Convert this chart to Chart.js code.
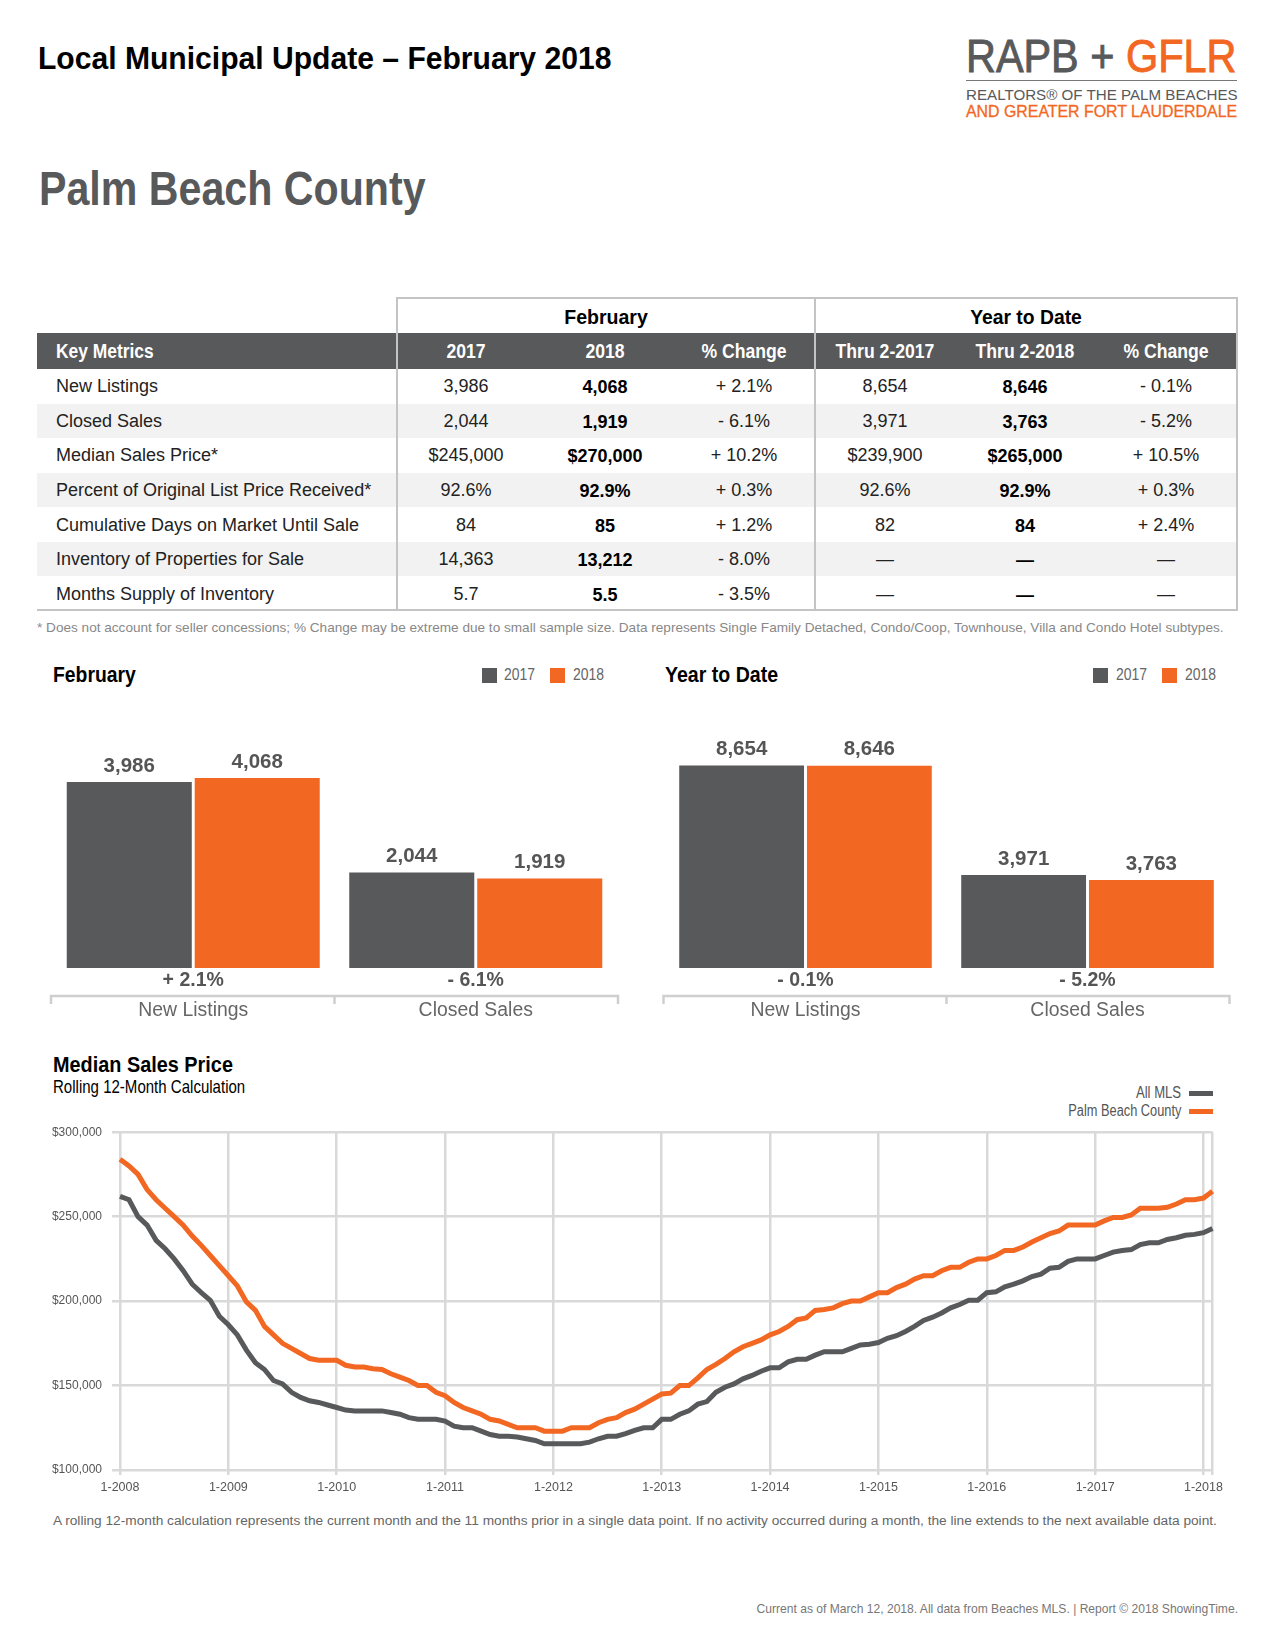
<!DOCTYPE html>
<html>
<head>
<meta charset="utf-8">
<script src="https://cdn.jsdelivr.net/npm/chart.js@4.4.1/dist/chart.umd.min.js"></script>
<style>
  body { margin: 0; background: #fff; }
  #page { position: relative; width: 1275px; height: 1650px; overflow: hidden; font-family: "Liberation Sans", Arial, sans-serif; color: #222; }
  .t { position: absolute; white-space: nowrap; transform-origin: left center; }
  .r { transform-origin: right center; }
  .b { font-weight: bold; }
  canvas { position: absolute; }
  .sw { position: absolute; }
</style>
</head>
<body>
<div id="page">
  <!-- header -->
  <div class="t b" style="left:38px;top:38px;line-height:40px;font-size:32px;color:#000;transform:scaleX(0.94);">Local Municipal Update – February 2018</div>
  <div class="t" style="left:966px;top:33px;line-height:46px;font-size:46px;transform:scaleX(0.9);-webkit-text-stroke:0.9px;"><span style="color:#58595b;-webkit-text-stroke-color:#58595b;">RAPB + </span><span style="color:#f26722;-webkit-text-stroke-color:#f26722;">GFLR</span></div>
  <div class="sw" style="left:966px;top:80px;width:271px;height:1px;background:#777;"></div>
  <div class="t" style="left:966px;top:86px;line-height:18px;font-size:15.15px;color:#58595b;">REALTORS® OF THE PALM BEACHES</div>
  <div class="t" style="left:966px;top:103px;line-height:18px;font-size:15.9px;color:#f26722;-webkit-text-stroke:0.3px #f26722;">AND GREATER FORT LAUDERDALE</div>

  <div class="t b" style="left:39px;top:160px;line-height:56px;font-size:49px;color:#58595b;transform:scaleX(0.84);">Palm Beach County</div>

  <div id="table"></div>

  <div class="t" style="left:37px;top:620px;line-height:16px;font-size:13.6px;color:#888;">* Does not account for seller concessions; % Change may be extreme due to small sample size. Data represents Single Family Detached, Condo/Coop, Townhouse, Villa and Condo Hotel subtypes.</div>

  <!-- bar chart headers -->
  <div class="t b" style="left:53px;top:661px;line-height:28px;font-size:21.5px;color:#000;transform:scaleX(0.9);">February</div>
  <div class="sw" style="left:482px;top:668px;width:15px;height:15px;background:#58595b;"></div>
  <div class="t" style="left:504px;top:665px;line-height:20px;font-size:17px;color:#666;transform:scaleX(0.82);">2017</div>
  <div class="sw" style="left:550px;top:668px;width:15px;height:15px;background:#f26722;"></div>
  <div class="t" style="left:573px;top:665px;line-height:20px;font-size:17px;color:#666;transform:scaleX(0.82);">2018</div>

  <div class="t b" style="left:665px;top:661px;line-height:28px;font-size:21.5px;color:#000;transform:scaleX(0.91);">Year to Date</div>
  <div class="sw" style="left:1093px;top:668px;width:15px;height:15px;background:#58595b;"></div>
  <div class="t" style="left:1116px;top:665px;line-height:20px;font-size:17px;color:#666;transform:scaleX(0.82);">2017</div>
  <div class="sw" style="left:1162px;top:668px;width:15px;height:15px;background:#f26722;"></div>
  <div class="t" style="left:1185px;top:665px;line-height:20px;font-size:17px;color:#666;transform:scaleX(0.82);">2018</div>

  <canvas id="febChart" width="590" height="340" style="left:40px;top:690px;width:590px;height:340px;"></canvas>
  <canvas id="ytdChart" width="590" height="340" style="left:652px;top:690px;width:590px;height:340px;"></canvas>

  <!-- line chart headers -->
  <div class="t b" style="left:53px;top:1051px;line-height:28px;font-size:22.4px;color:#000;transform:scaleX(0.887);">Median Sales Price</div>
  <div class="t" style="left:53px;top:1077px;line-height:20px;font-size:17.7px;color:#000;transform:scaleX(0.85);">Rolling 12-Month Calculation</div>
  <div class="t r" style="right:94px;top:1084px;line-height:18px;font-size:16px;color:#555;transform:scaleX(0.82);">All MLS</div>
  <div class="sw" style="left:1189px;top:1091px;width:24px;height:5px;background:#58595b;"></div>
  <div class="t r" style="right:94px;top:1102px;line-height:18px;font-size:16px;color:#555;transform:scaleX(0.8);">Palm Beach County</div>
  <div class="sw" style="left:1189px;top:1109px;width:24px;height:5px;background:#f26722;"></div>

  <canvas id="lineChart" width="1185" height="390" style="left:40px;top:1115px;width:1185px;height:390px;"></canvas>

  <div class="t" style="left:53px;top:1513px;line-height:16px;font-size:13.7px;color:#666;">A rolling 12-month calculation represents the current month and the 11 months prior in a single data point. If no activity occurred during a month, the line extends to the next available data point.</div>
  <div class="t" style="right:37px;top:1601px;line-height:16px;font-size:12.1px;color:#777;">Current as of March 12, 2018. All data from Beaches MLS. | Report © 2018 ShowingTime.</div>
</div>

<script>
const SANS = '"Liberation Sans", Arial, sans-serif';
const GRAY = "#58595b";
const ORANGE = "#f26722";
const GRID = "#d9d9d9";

// key metrics table
const metricNames = ["New Listings", "Closed Sales", "Median Sales Price*", "Percent of Original List Price Received*",
  "Cumulative Days on Market Until Sale", "Inventory of Properties for Sale", "Months Supply of Inventory"];
const feb2017Col = ["3,986", "2,044", "$245,000", "92.6%", "84", "14,363", "5.7"];
const feb2018Col = ["4,068", "1,919", "$270,000", "92.9%", "85", "13,212", "5.5"];
const febChangeCol = ["+ 2.1%", "- 6.1%", "+ 10.2%", "+ 0.3%", "+ 1.2%", "- 8.0%", "- 3.5%"];
const ytd2017Col = ["8,654", "3,971", "$239,900", "92.6%", "82", "—", "—"];
const ytd2018Col = ["8,646", "3,763", "$265,000", "92.9%", "84", "—", "—"];
const ytdChangeCol = ["- 0.1%", "- 5.2%", "+ 10.5%", "+ 0.3%", "+ 2.4%", "—", "—"];
const headCols = ["2017", "2018", "% Change", "Thru 2-2017", "Thru 2-2018", "% Change"];

// bar charts
const barCats = ["New Listings", "Closed Sales"];
const feb2017 = [3986, 2044];
const feb2018 = [4068, 1919];
const febChange = ["+ 2.1%", "- 6.1%"];
const ytd2017 = [8654, 3971];
const ytd2018 = [8646, 3763];
const ytdChange = ["- 0.1%", "- 5.2%"];

// median sales price, rolling 12 months, 1-2008 .. 2-2018
const palmBeach = [
  284000, 280000, 275000, 266000, 260000, 255000, 250000, 245000, 238500, 233000, 227000, 221000,
  215000, 209000, 199500, 194500, 185000, 180000, 175000, 172000, 169000, 166000, 165000, 165000,
  165000, 162000, 161000, 161000, 160000, 159500, 157000, 155000, 153000, 150000, 150000, 146000,
  144000, 140000, 137000, 135000, 133000, 130000, 129000, 127000, 125000, 125000, 125000, 123000,
  123000, 123000, 125000, 125000, 125000, 128000, 130000, 131000, 134000, 136000, 139000, 142000,
  145000, 145500, 150000, 150000, 154500, 159500, 162500, 166000, 170000, 173000, 175000, 177000,
  180000, 182000, 185000, 189000, 190000, 194500, 195000, 196000, 198500, 200000, 200000, 202500,
  205000, 205000, 208000, 210000, 213000, 215000, 215000, 218000, 220000, 220000, 223000, 225000,
  225000, 227000, 230000, 230000, 232000, 235000, 237500, 240000, 241500, 245000, 245000, 245000,
  245000, 247500, 249500, 249500, 251000, 255000, 255000, 255000, 255500, 257500, 260000, 260000,
  261000, 265000
];
const allMls = [
  262000, 260000, 250000, 245000, 236000, 231000, 225000, 218000, 210000, 205000, 200500, 191000,
  186000, 180000, 171000, 163500, 159500, 153000, 151000, 146000, 143000, 141000, 140000, 138500,
  137000, 135500, 135000, 135000, 135000, 135000, 134000, 133000, 131000, 130000, 130000, 130000,
  129000, 126000, 125000, 125000, 123000, 121000, 120000, 120000, 119500, 118500, 117500, 115500,
  115500, 115500, 115500, 115500, 116500, 118500, 120000, 120000, 121500, 123500, 125000, 125000,
  130000, 130000, 133000, 135000, 139000, 140500, 146000, 149000, 151000, 154000, 156000, 158500,
  160500, 160500, 164000, 165500, 165500, 168000, 170000, 170000, 170000, 172000, 174000, 174500,
  175500, 178000, 179500, 182000, 185000, 188500, 190500, 193000, 196000, 198000, 200500, 200500,
  205000, 205500, 208500, 210000, 212000, 214500, 216000, 219500, 220000, 223500, 225000, 225000,
  225000, 227000, 229000, 230000, 230500, 233500, 234500, 234500, 236500, 237500, 239000, 239500,
  240500, 243000
];
const firstYear = 2008, lastYear = 2018, lastMonth = 2;
const months = [];
for (let y = firstYear; y <= lastYear; y++) {
  for (let m = 1; m <= 12; m++) {
    if (y === lastYear && m > lastMonth) break;
    months.push(m + "-" + y);
  }
}

// ---- table ----
function buildTable() {
  const root = document.getElementById("table");
  const left = 37, right = 1237, split1 = 397, split2 = 815;
  const groupTop = 297, headTop = 333, headH = 36, rowTop = 369, rowH = 34.57;
  const centers = [466, 605, 744, 885, 1025, 1166];
  const add = (html) => root.insertAdjacentHTML("beforeend", html);
  const box = (x, y, w, h, bg) => add(`<div class="sw" style="left:${x}px;top:${y}px;width:${w}px;height:${h}px;background:${bg};"></div>`);
  const text = (s, cx, cy, cls, style) => add(`<div class="t ${cls}" style="left:${cx - 100}px;width:200px;text-align:center;top:${cy - 12}px;line-height:24px;transform-origin:center;${style}">${s}</div>`);

  box(left, headTop, right - left, headH, GRAY);
  for (let i = 1; i < metricNames.length; i += 2) box(left, rowTop + i * rowH, right - left, rowH, "#f2f2f2");

  // borders
  const bc = "#c4c4c4";
  box(split1, groupTop, right - split1 + 1, 2, bc);
  [split1, split2, right].forEach(x => box(x - 1, groupTop, 2, 611 - groupTop, bc));
  box(left, 609, right - left + 1, 2, bc);

  text("February", 606, 317, "b", "font-size:21px;color:#000;transform:scaleX(0.93);");
  text("Year to Date", 1026, 317, "b", "font-size:21px;color:#000;transform:scaleX(0.92);");
  add(`<div class="t b" style="left:56px;top:${headTop + headH / 2 - 12}px;line-height:24px;font-size:20px;color:#fff;transform:scaleX(0.87);">Key Metrics</div>`);
  headCols.forEach((h, i) => text(h, centers[i], headTop + headH / 2, "b", "font-size:20px;color:#fff;transform:scaleX(0.88);"));

  const cols = [feb2017Col, feb2018Col, febChangeCol, ytd2017Col, ytd2018Col, ytdChangeCol];
  metricNames.forEach((name, r) => {
    const cy = rowTop + r * rowH + rowH / 2;
    add(`<div class="t" style="left:56px;top:${cy - 12}px;line-height:24px;font-size:18px;color:#222;">${name}</div>`);
    cols.forEach((col, c) => {
      const bold = (c === 1 || c === 4);
      text(col[r], centers[c], cy + (bold ? 1 : 0), bold ? "b" : "", `font-size:18px;color:${bold ? "#000" : "#222"};`);
    });
  });
}
buildTable();

// ---- bar charts ----
const barLabels = {
  id: "barLabels",
  afterDatasetsDraw(chart, args, opts) {
    const { ctx, chartArea, scales: { x } } = chart;
    ctx.save();
    ctx.textAlign = "center";
    ctx.textBaseline = "middle";
    ctx.fillStyle = "#555";
    ctx.font = "bold 20.5px " + SANS;
    chart.data.datasets.forEach((ds, di) => {
      chart.getDatasetMeta(di).data.forEach((bar, i) => {
        ctx.fillText(ds.data[i].toLocaleString("en-US"), bar.x, bar.y - 16);
      });
    });
    ctx.font = "bold 19.5px " + SANS;
    opts.changes.forEach((t, i) => ctx.fillText(t, x.getPixelForValue(i), chartArea.bottom + 13));

    // bracket under the groups
    const by = chartArea.bottom + 28;
    const mid = (x.getPixelForValue(0) + x.getPixelForValue(1)) / 2;
    ctx.strokeStyle = "#cfcfcf";
    ctx.lineWidth = 2.5;
    ctx.beginPath();
    ctx.moveTo(chartArea.left - 1, by + 8); ctx.lineTo(chartArea.left - 1, by);
    ctx.lineTo(chartArea.right + 1, by); ctx.lineTo(chartArea.right + 1, by + 8);
    ctx.moveTo(mid, by); ctx.lineTo(mid, by + 8);
    ctx.stroke();

    ctx.font = "19.4px " + SANS;
    ctx.fillStyle = "#666";
    chart.data.labels.forEach((l, i) => ctx.fillText(l, x.getPixelForValue(i), chartArea.bottom + 43));
    ctx.restore();
  }
};

function drawBars(id, d2017, d2018, changes, max, padL, padR) {
  new Chart(document.getElementById(id), {
    type: "bar",
    data: {
      labels: barCats,
      datasets: [
        { label: "2017", data: d2017, backgroundColor: GRAY, categoryPercentage: 0.906, barPercentage: 0.977 },
        { label: "2018", data: d2018, backgroundColor: ORANGE, categoryPercentage: 0.906, barPercentage: 0.977 }
      ]
    },
    options: {
      responsive: false,
      animation: false,
      layout: { padding: { left: padL, right: padR, top: 10, bottom: 62 } },
      plugins: { legend: { display: false }, tooltip: { enabled: false }, barLabels: { changes } },
      scales: {
        x: { display: false },
        y: { display: false, min: 0, max: max }
      }
    },
    plugins: [barLabels]
  });
}
drawBars("febChart", feb2017, feb2018, febChange, 5740, 12, 13);
drawBars("ytdChart", ytd2017, ytd2018, ytdChange, 11450, 12.5, 13.5);

// ---- line chart ----
const isGridMonth = (i) => months[i].startsWith("1-") || i === months.length - 1;
new Chart(document.getElementById("lineChart"), {
  type: "line",
  data: {
    labels: months,
    datasets: [
      { label: "All MLS", data: allMls, borderColor: GRAY, borderWidth: 5, pointRadius: 0, tension: 0 },
      { label: "Palm Beach County", data: palmBeach, borderColor: ORANGE, borderWidth: 5, pointRadius: 0, tension: 0 }
    ]
  },
  options: {
    responsive: false,
    animation: false,
    layout: { padding: { left: 0, right: 12.5, top: 13, bottom: 0 } },
    plugins: { legend: { display: false }, tooltip: { enabled: false } },
    scales: {
      x: {
        border: { display: false },
        grid: { color: c => isGridMonth(c.index) ? GRID : "rgba(0,0,0,0)", lineWidth: 2.5, tickLength: 5 },
        ticks: {
          autoSkip: false, maxRotation: 0, padding: 5, color: "#555",
          font: { family: SANS, size: 12.5 },
          callback: (v, i) => months[i].startsWith("1-") ? months[i] : ""
        },
        afterFit: s => { s.height = 35; }
      },
      y: {
        min: 100000, max: 300000,
        border: { display: false },
        grid: { color: GRID, lineWidth: 2.5, tickLength: 8 },
        ticks: {
          stepSize: 50000, padding: 10, color: "#555",
          font: { family: SANS, size: 12 },
          callback: v => "$" + v.toLocaleString("en-US")
        },
        afterFit: s => { s.width = 80; }
      }
    }
  }
});
</script>
</body>
</html>
